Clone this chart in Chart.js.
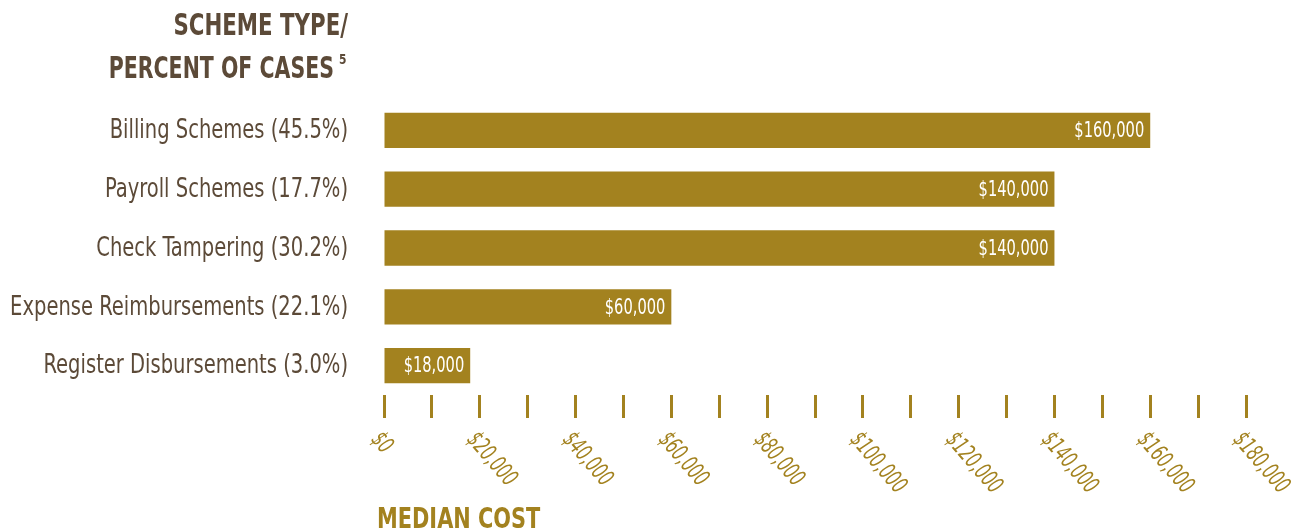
<!DOCTYPE html>
<html>
<head>
<meta charset="utf-8">
<script src="https://cdn.jsdelivr.net/npm/chart.js@4/dist/chart.umd.min.js"></script>
<style>
  html, body { margin: 0; padding: 0; background: #fff; }
  #wrap { width: 1299px; height: 531px; position: relative; }
</style>
</head>
<body>
<div id="wrap"><canvas id="myChart" width="1299" height="531"></canvas></div>
<script>
"use strict"

// DATA
const schemes = ['Billing Schemes', 'Payroll Schemes', 'Check Tampering', 'Expense Reimbursements', 'Register Disbursements'];
const percentOfCases = ['45.5%', '17.7%', '30.2%', '22.1%', '3.0%'];
const medianCost = [160000, 140000, 140000, 60000, 18000];

// x axis range
const axisMin = 0,
    axisMax = 180000,
    axisStep = 10000,
    labelStep = 20000;

// COLOURS / FONTS
const gold = '#a3821f';
const brown = '#5c4a38';
const narrow = "'DejaVu Sans Condensed', 'DejaVu Sans', sans-serif";

const labels = schemes.map((s, i) => s + ' (' + percentOfCases[i] + ')');

function money(v) {
    return '$' + v.toLocaleString('en-US');
}

// draw text squeezed horizontally by k (the font has no narrower cut)
function squeezed(ctx, text, x, y, k) {
    ctx.save();
    ctx.translate(x, y);
    ctx.scale(k, 1);
    ctx.fillText(text, 0, 0);
    ctx.restore();
}

// headings, category names, value labels and slanted x tick labels
const extraText = {
    id: 'extraText',
    afterDatasetsDraw(chart) {
        const ctx = chart.ctx;
        const meta = chart.getDatasetMeta(0);
        const ys = chart.scales.y;

        // values inside the bars
        ctx.save();
        ctx.fillStyle = '#ffffff';
        ctx.font = '22px ' + narrow;
        ctx.textAlign = 'right';
        ctx.textBaseline = 'middle';
        meta.data.forEach((bar, i) => {
            squeezed(ctx, money(medianCost[i]), bar.x - 6, bar.y + 1, 0.74);
        });
        ctx.restore();

        // category names
        ctx.save();
        ctx.fillStyle = brown;
        ctx.font = '26px ' + narrow;
        ctx.textAlign = 'right';
        ctx.textBaseline = 'middle';
        labels.forEach((lab, i) => {
            squeezed(ctx, lab, 348, ys.getPixelForTick(i) + 1, 0.835);
        });
        ctx.restore();
    },
    afterDraw(chart) {
        const ctx = chart.ctx;
        const xs = chart.scales.x;

        // slanted tick labels
        ctx.save();
        ctx.fillStyle = gold;
        ctx.font = 'italic 24px ' + narrow;
        ctx.textAlign = 'left';
        ctx.textBaseline = 'middle';
        xs.ticks.forEach((t) => {
            if (t.value % labelStep !== 0) return;
            const px = xs.getPixelForValue(t.value);
            ctx.save();
            ctx.translate(px - 9, 436);
            ctx.rotate(49 * Math.PI / 180);
            ctx.scale(0.7, 1);
            ctx.fillText(money(t.value), 0, 0);
            ctx.restore();
        });
        ctx.restore();

        // heading above the categories
        ctx.save();
        ctx.fillStyle = brown;
        ctx.font = 'bold 30px ' + narrow;
        ctx.textAlign = 'right';
        ctx.textBaseline = 'alphabetic';
        squeezed(ctx, 'SCHEME TYPE/', 348, 35, 0.79);
        squeezed(ctx, 'PERCENT OF CASES', 334, 78, 0.76);
        ctx.font = 'bold 14px ' + narrow;
        ctx.textAlign = 'left';
        squeezed(ctx, '5', 339, 64, 0.85);

        // axis heading
        ctx.fillStyle = gold;
        ctx.font = 'bold 29px ' + narrow;
        squeezed(ctx, 'MEDIAN COST', 377, 528, 0.8);
        ctx.restore();
    }
};

const data = {
    labels: labels,
    datasets: [{
        data: medianCost,
        backgroundColor: gold,
        borderWidth: 0,
        barPercentage: 0.6,
        categoryPercentage: 1
    }]
};

const config = {
    type: 'bar',
    data: data,
    options: {
        indexAxis: 'y',
        responsive: false,
        animation: false,
        layout: {
            padding: { left: 0, right: 53, top: 101, bottom: 0 }
        },
        plugins: {
            legend: { display: false },
            tooltip: { enabled: false }
        },
        scales: {
            x: {
                min: axisMin,
                max: axisMax,
                border: { display: false },
                grid: {
                    drawOnChartArea: false,
                    drawTicks: true,
                    tickLength: 23,
                    tickWidth: 3,
                    tickColor: gold
                },
                ticks: {
                    stepSize: axisStep,
                    autoSkip: false,
                    maxRotation: 0,
                    color: 'rgba(0,0,0,0)',
                    callback: () => ''
                },
                afterFit(scale) {
                    scale.height = 136;
                }
            },
            y: {
                border: { display: false },
                grid: { display: false },
                ticks: {
                    // names are drawn squeezed by the plugin above
                    color: 'rgba(0,0,0,0)',
                    font: { family: narrow, size: 26 }
                },
                afterFit(scale) {
                    scale.width = 384;
                }
            }
        }
    },
    plugins: [extraText]
};

// intialize Chart
const myChart = new Chart(document.getElementById('myChart'), config);
</script>
</body>
</html>
